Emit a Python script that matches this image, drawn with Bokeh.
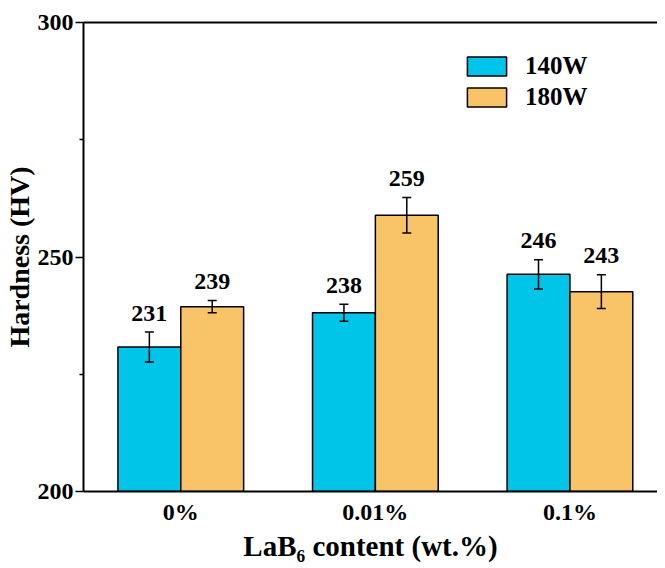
from bokeh.plotting import figure
from bokeh.models import ColumnDataSource, FixedTicker, Whisker, TeeHead, LinearAxis, Legend, LegendItem, Range1d
from bokeh.transform import dodge
from bokeh.core.properties import value
from bokeh.embed import file_html
from bokeh.resources import INLINE

categories = ["0%", "0.01%", "0.1%"]
hv_140 = [230.8, 238.1, 246.3]
err_140 = [3.2, 1.8, 3.1]
lbl_140 = ["231", "238", "246"]
hv_180 = [239.4, 258.9, 242.6]
err_180 = [1.3, 3.8, 3.6]
lbl_180 = ["239", "259", "243"]
y_ticks = [200, 250, 300]
y_minor = [225, 275]

FONT = "Liberation Serif"
BLUE = "#00C5E8"
ORANGE = "#F9C468"

def make_src(vals, errs, lbls):
    return ColumnDataSource(dict(
        xi=list(range(len(categories))), top=vals,
        upper=[v + e for v, e in zip(vals, errs)],
        lower=[v - e for v, e in zip(vals, errs)],
        label=lbls,
    ))

s140 = make_src(hv_140, err_140, lbl_140)
s180 = make_src(hv_180, err_180, lbl_180)

p = figure(x_range=Range1d(-0.5, 2.45), y_range=Range1d(200, 300), width=657, height=564,
           output_backend="svg", toolbar_location=None,
           min_border_left=83, min_border_top=22, min_border_right=0, min_border_bottom=73)
p.outline_line_color = None
p.grid.visible = False

off = 0.1615
bw = 0.323
r1 = p.vbar(x=dodge("xi", -off), top="top", bottom=200, width=bw, source=s140,
            fill_color=BLUE, line_color="black", line_width=1.5)
r2 = p.vbar(x=dodge("xi", off), top="top", bottom=200, width=bw, source=s180,
            fill_color=ORANGE, line_color="black", line_width=1.5)

for src, o in ((s140, -off), (s180, off)):
    w = Whisker(source=src, base=dodge("xi", o), upper="upper", lower="lower",
                dimension="height", line_color="black", line_width=1.5, level="annotation",
                upper_head=TeeHead(size=9, line_width=1.5, line_color="black"),
                lower_head=TeeHead(size=9, line_width=1.5, line_color="black"))
    p.add_layout(w)
    p.text(x=dodge("xi", o), y="upper", text="label", source=src,
           text_font=value(FONT), text_font_style="bold", text_font_size="24px",
           text_align="center", text_baseline="alphabetic", y_offset=-19, text_color="black")

ya = p.yaxis[0]
ya.ticker = FixedTicker(ticks=y_ticks, minor_ticks=y_minor)
ya.axis_label = "Hardness (HV)"
ya.major_tick_out = 8
ya.major_tick_in = 0
ya.minor_tick_out = 4
ya.minor_tick_in = 0
ya.major_label_standoff = 2
ya.axis_label_standoff = 0

xa = p.xaxis[0]
xa.ticker = FixedTicker(ticks=list(range(len(categories))), minor_ticks=[])
xa.major_label_overrides = {i: c for i, c in enumerate(categories)}
xa.axis_label = "LaB\u2086 content (wt.%)"
xa.major_tick_out = 0
xa.major_tick_in = 0
xa.minor_tick_out = 0
xa.minor_tick_in = 0
xa.major_label_standoff = 7
xa.axis_label_standoff = 2

for ax in (xa, ya):
    ax.axis_line_width = 2
    ax.axis_line_color = "black"
    ax.major_tick_line_width = 1.5
    ax.minor_tick_line_width = 1.5
    ax.major_label_text_font = FONT
    ax.major_label_text_font_style = "bold"
    ax.major_label_text_font_size = "24px"
    ax.major_label_text_color = "black"
    ax.axis_label_text_font = FONT
    ax.axis_label_text_font_style = "bold"
    ax.axis_label_text_font_size = "29px"
    ax.axis_label_text_color = "black"
ya.axis_label_text_font_size = "28px"

top_ax = LinearAxis(major_tick_out=0, major_tick_in=0, minor_tick_out=0, minor_tick_in=0,
                    major_label_text_font_size="0px", axis_line_width=2, axis_line_color="black")
top_ax.major_label_text_alpha = 0
p.add_layout(top_ax, "above")

legend = Legend(items=[LegendItem(label="140W", renderers=[r1]), LegendItem(label="180W", renderers=[r2])],
                location=(379, 380), orientation="vertical",
                glyph_width=49, glyph_height=24, label_height=24, spacing=3, padding=0, margin=0,
                label_standoff=14, border_line_color=None, background_fill_alpha=0,
                label_text_font=FONT, label_text_font_style="bold", label_text_font_size="25px",
                label_text_color="black", label_text_baseline="middle")
p.add_layout(legend, "center")

open("out.html", "w").write(file_html(p, INLINE))
